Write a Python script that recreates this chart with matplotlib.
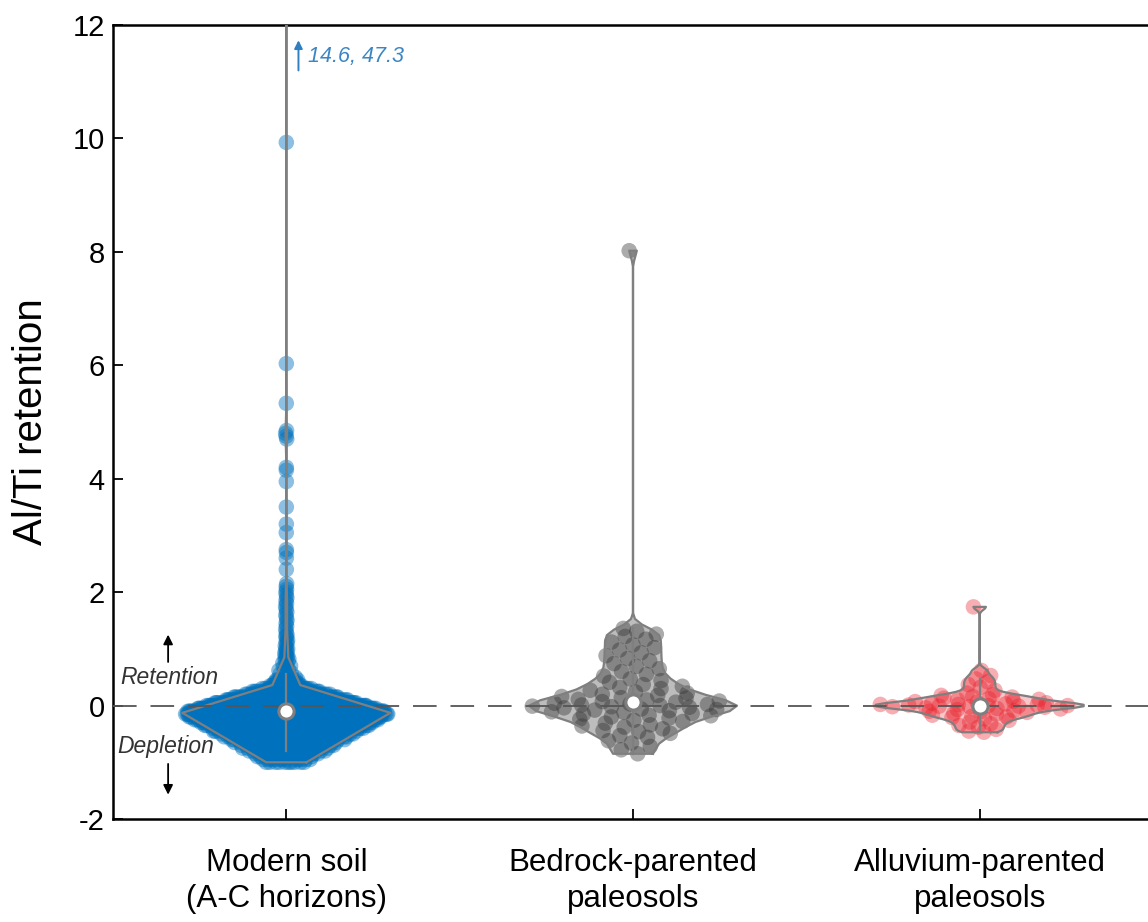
import numpy as np
import matplotlib
matplotlib.use('Agg')
from matplotlib import pyplot as plt

plt.rcParams['font.family'] = ['Liberation Sans', 'DejaVu Sans']
plt.rcParams['axes.unicode_minus'] = False
plt.rcParams['lines.scale_dashes'] = False

groups = ['Modern soil\n(A-C horizons)', 'Bedrock-parented\npaleosols', 'Alluvium-parented\npaleosols']

# modern soil body is too dense to read point by point: values and how many sit at each
modern_vals = [-1.0, -0.95, -0.9, -0.85, -0.8, -0.75, -0.7, -0.65, -0.6, -0.55,
               -0.5, -0.45, -0.4, -0.35, -0.3, -0.25, -0.2, -0.15, -0.1, -0.05,
               0.0, 0.05, 0.1, 0.15, 0.2, 0.25, 0.3, 0.35, 0.4, 0.45]
modern_counts = [10, 12, 14, 16, 18, 20, 22, 24, 26, 30,
                 36, 42, 50, 60, 70, 85, 100, 130, 140, 130,
                 110, 85, 65, 50, 38, 30, 24, 18, 15, 12]
modern_tail = [0.5, 0.52, 0.55, 0.58, 0.6, 0.62, 0.65, 0.68, 0.7, 0.72, 0.75, 0.78,
               0.8, 0.82, 0.85, 0.85, 0.88, 0.9, 0.92, 0.95, 0.98, 1.0, 1.02, 1.05,
               1.1, 1.12, 1.15, 1.2, 1.22, 1.25, 1.3, 1.35, 1.4, 1.45, 1.5, 1.55,
               1.6, 1.65, 1.7, 1.75, 1.8, 1.85, 1.9, 1.95, 2.0, 2.05, 2.1, 2.15,
               2.4, 2.6, 2.7, 2.75, 3.05, 3.2, 3.5, 3.95, 4.15, 4.2, 4.7, 4.75,
               4.8, 4.85, 5.33, 6.03, 9.93, 14.6, 47.3]

bedrock = [8.02,
           -0.85, -0.78, -0.72, -0.66, -0.62, -0.56, -0.53, -0.49, -0.46,
           -0.44, -0.41, -0.38, -0.36, -0.34, -0.31, -0.28, -0.26,
           -0.24, -0.22, -0.2, -0.18, -0.17, -0.15,
           -0.14, -0.12, -0.11, -0.09, -0.08, -0.07, -0.06,
           -0.04, -0.03, -0.02, -0.01, 0.0, 0.01, 0.02, 0.03, 0.04,
           0.06, 0.07, 0.08, 0.1, 0.11, 0.13, 0.14,
           0.16, 0.18, 0.2, 0.22, 0.24, 0.27, 0.3, 0.32, 0.34,
           0.37, 0.41, 0.44, 0.47, 0.52, 0.55, 0.6, 0.65, 0.69, 0.74,
           0.79, 0.83, 0.88, 0.93, 0.98, 1.02, 1.07, 1.12, 1.17, 1.22,
           1.26, 1.31, 1.36]

alluvium = [1.74,
            -0.47, -0.45, -0.42, -0.38, -0.35, -0.32, -0.29, -0.26, -0.23, -0.21,
            -0.2, -0.19, -0.17, -0.15, -0.14, -0.12, -0.11,
            -0.1, -0.09, -0.07, -0.06, -0.05, -0.04, -0.03, -0.02, -0.02, -0.01, -0.01, 0.0,
            0.0, 0.01, 0.01, 0.02, 0.02, 0.03, 0.04, 0.05, 0.06, 0.07, 0.08, 0.1,
            0.11, 0.12, 0.13, 0.15, 0.16, 0.18, 0.19,
            0.22, 0.27, 0.32, 0.37, 0.42, 0.47, 0.53, 0.62]

modern = np.concatenate([np.repeat(modern_vals, modern_counts), modern_tail])
data = [modern, np.array(bedrock), np.array(alluvium)]
bws = [0.036, 0.1, 0.05]
colors = ['#0072BD', '#383838', '#E8202B']
pt_alpha = [0.45, 0.42, 0.36]
fill_alpha = [0.4, 0.33, 0.25]
grey = '#7f7f7f'


def violin_kde(d, bw):
    lo, hi = d.min() - 3 * bw, d.max() + 3 * bw
    grid = np.linspace(lo, hi, 100)
    dens = np.exp(-0.5 * ((grid[:, None] - d[None, :]) / bw) ** 2).sum(1)
    keep = (grid >= d.min()) & (grid <= d.max())
    v, w = grid[keep], dens[keep]
    v[0], v[-1] = d.min(), d.max()
    return v, w / w.max() * 0.3


fig = plt.figure(figsize=(11.48, 9.22), dpi=100)
ax = fig.add_axes([113 / 1148, 103 / 922, 1040 / 1148, 794 / 922])

for i, d in enumerate(data):
    pos = i + 1
    v, w = violin_kde(d, bws[i])
    ax.fill(np.concatenate([pos + w, (pos - w)[::-1]]), np.concatenate([v, v[::-1]]),
            facecolor=colors[i], alpha=fill_alpha[i], edgecolor='none', zorder=1)
    # spread points across the violin width at their height
    jit = 2 * ((np.arange(len(d)) * 0.6180339887) % 1) - 1
    xs = pos + jit * np.interp(d, v, w)
    ax.scatter(xs, d, s=125, color=colors[i], alpha=pt_alpha[i], edgecolors='none', zorder=2)
    ax.plot(np.concatenate([pos + w, (pos - w)[::-1], [pos + w[0]]]),
            np.concatenate([v, v[::-1], [v[0]]]), color=grey, lw=1.6, zorder=3)
    q1, med, q3 = np.percentile(d, [25, 50, 75])
    iqr = q3 - q1
    lw_ = d[d >= q1 - 1.5 * iqr].min()
    uw_ = d[d <= q3 + 1.5 * iqr].max()
    ax.plot([pos, pos], [lw_, uw_], color=grey, lw=1.6, zorder=4)
    ax.scatter([pos], [med], s=120, facecolor='white', edgecolor=grey, lw=2.2, zorder=6)

ax.axhline(0, color='#555555', lw=1.3, dashes=(17, 10), zorder=5)

ax.annotate('', xy=(0.659, 1.3), xytext=(0.659, 0.72),
            arrowprops=dict(arrowstyle='-|>', color='black', lw=1.3, mutation_scale=14))
ax.annotate('', xy=(0.659, -1.62), xytext=(0.659, -0.98),
            arrowprops=dict(arrowstyle='-|>', color='black', lw=1.3, mutation_scale=14))
ax.text(0.662, 0.49, 'Retention', ha='center', va='center', style='italic', fontsize=16.5, color='#333333')
ax.text(0.652, -0.72, 'Depletion', ha='center', va='center', style='italic', fontsize=16.5, color='#333333')
ax.annotate('', xy=(1.035, 11.78), xytext=(1.035, 11.15),
            arrowprops=dict(arrowstyle='-|>', color='#2F7FC1', lw=1.4, mutation_scale=12))
ax.text(1.062, 11.44, '14.6, 47.3', ha='left', va='center', style='italic', fontsize=15.5, color='#3A86C4')

ax.set_xlim(0.5, 3.5)
ax.set_ylim(-2, 12)
ax.set_xticks([1, 2, 3])
ax.set_xticklabels(groups, fontsize=22.5, linespacing=1.25)
ax.set_yticks(range(-2, 13, 2))
ax.set_yticklabels([str(t) for t in range(-2, 13, 2)], fontsize=21)
ax.tick_params(direction='in', length=7, width=1.3)
ax.tick_params(axis='x', pad=21)
ax.tick_params(axis='y', pad=6)
ax.set_ylabel('Al/Ti retention', fontsize=29, labelpad=16)
for s in ax.spines.values():
    s.set_linewidth(1.8)

plt.savefig('out.png', dpi=100)
